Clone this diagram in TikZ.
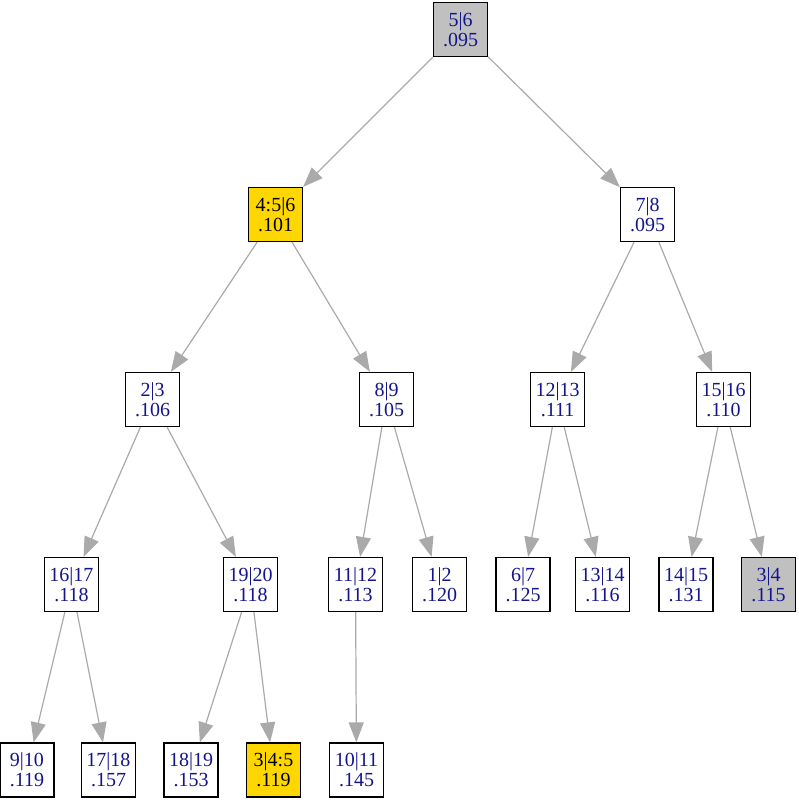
\documentclass[tikz,border=0pt]{standalone}
\usepackage{fontspec}
\setmainfont{Liberation Serif}
\usetikzlibrary{arrows.meta}
\definecolor{txtblue}{RGB}{20,20,140}
\definecolor{gold}{RGB}{255,215,0}
\definecolor{edgegray}{RGB}{170,170,170}
\definecolor{boxgray}{RGB}{192,192,192}
\tikzset{
  nd/.style={draw=black, line width=1.2pt, fill=white, minimum width=54pt, minimum height=54pt, inner sep=1pt, align=center, font=\fontsize{20}{20}\selectfont, text=txtblue},
  gnd/.style={nd, fill=boxgray},
  ynd/.style={nd, fill=gold, text=black},
  ed/.style={draw=edgegray, line width=1.2pt, -{Triangle[length=20pt,width=15pt]}, shorten >=0pt}
}
\begin{document}
\begin{tikzpicture}[x=1pt,y=1pt]
\useasboundingbox (0,0) rectangle (799,800);
\node[gnd] (a) at (460.5,770.5) {5|6\\.095};
\node[ynd] (b) at (275.5,585.5) {4:5|6\\.101};
\node[nd] (c) at (647.5,585.5) {7|8\\.095};
\node[nd] (d) at (152.5,400.5) {2|3\\.106};
\node[nd] (e) at (386.5,400.5) {8|9\\.105};
\node[nd] (f) at (557.5,400.5) {12|13\\.111};
\node[nd] (g) at (723.5,400.5) {15|16\\.110};
\node[nd] (h) at (71.5,215.5) {16|17\\.118};
\node[nd] (i) at (250.5,215.5) {19|20\\.118};
\node[nd] (j) at (355.5,215.5) {11|12\\.113};
\node[nd] (k) at (439.5,215.5) {1|2\\.120};
\node[nd] (l) at (523,215.5) {6|7\\.125};
\node[nd] (m) at (602.5,215.5) {13|14\\.116};
\node[nd] (n) at (686,215.5) {14|15\\.131};
\node[gnd] (o) at (768.5,215.5) {3|4\\.115};
\node[nd] (p) at (27,30) {9|10\\.119};
\node[nd] (q) at (108.5,30) {17|18\\.157};
\node[nd] (r) at (191,30) {18|19\\.153};
\node[ynd] (s) at (273.5,30) {3|4:5\\.119};
\node[nd] (t) at (356.5,30) {10|11\\.145};
\draw[ed] (a) -- (b);
\draw[ed] (a) -- (c);
\draw[ed] (b) -- (d);
\draw[ed] (b) -- (e);
\draw[ed] (c) -- (f);
\draw[ed] (c) -- (g);
\draw[ed] (d) -- (h);
\draw[ed] (d) -- (i);
\draw[ed] (e) -- (j);
\draw[ed] (e) -- (k);
\draw[ed] (f) -- (l);
\draw[ed] (f) -- (m);
\draw[ed] (g) -- (n);
\draw[ed] (g) -- (o);
\draw[ed] (h) -- (p);
\draw[ed] (h) -- (q);
\draw[ed] (i) -- (r);
\draw[ed] (i) -- (s);
\draw[ed] (j) -- (t);
\end{tikzpicture}
\end{document}
